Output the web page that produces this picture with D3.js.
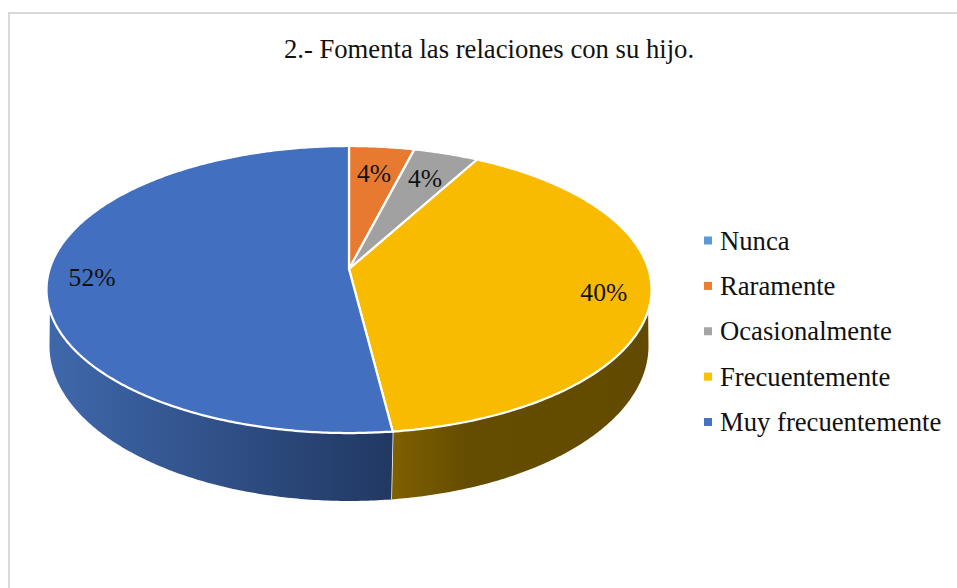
<!DOCTYPE html>
<html>
<head>
<meta charset="utf-8">
<script src="https://cdnjs.cloudflare.com/ajax/libs/d3/7.8.5/d3.min.js"></script>
<style>
  html, body { margin: 0; padding: 0; background: #fff; overflow: hidden; }
  text { font-family: "Liberation Serif", serif; fill: #111; }
</style>
</head>
<body>
<svg id="chart" width="957" height="588"></svg>
<script>
var title = '2.- Fomenta las relaciones con su hijo.';
var categories = ['Nunca', 'Raramente', 'Ocasionalmente', 'Frecuentemente', 'Muy frecuentemente'];
var values = [0, 4, 4, 40, 52];
var colors = ['#5b9bd5', '#ed7d31', '#a5a5a5', '#ffc000', '#4472c4'];

var svg = d3.select('#chart');
var color = d3.scaleOrdinal().domain(categories).range(colors);

// frame, only top and left are visible in the crop
svg.append('path')
  .attr('d', 'M9,588V13H957')
  .attr('fill', 'none')
  .attr('stroke', '#d9d9d9')
  .attr('stroke-width', 2);

svg.append('text')
  .attr('x', 489)
  .attr('y', 58)
  .attr('text-anchor', 'middle')
  .style('font-size', '26.67px')
  .text(title);

// the pie lies on a tilted plane, so the apex is not the ellipse center
var topPlane = { x: 349, y: 269, r: 299.4, a: -140.6, c: 0.1429 };
var bottomPlane = { x: 349, y: 327.7, r: 297.4, a: -152.8, c: 0.118 };

var project = function(plane, angle, k){
  var u = Math.sin(angle) * k;
  var v = Math.cos(angle) * k;
  var w = 1 + plane.c * v;
  return [plane.x + plane.r * u / w, plane.y + plane.a * v / w];
};

var arcPoints = function(plane, from, to){
  var n = Math.max(2, Math.ceil(Math.abs(to - from) / 0.01));
  return d3.range(n + 1).map(function(i){
    return project(plane, from + (to - from) * i / n, 1);
  });
};

var line = d3.line();
var pie = d3.pie().sort(null).value(function(d){ return d.value; });
var slices = pie(categories.map(function(c, i){
  return { name: c, value: values[i], index: i };
}));

// where the rim stops being visible on each plane (right and left silhouette)
var rimTop = [1.861, 2 * Math.PI - 1.861];
var rimBottom = [1.689, 2 * Math.PI - 1.689];

var defs = svg.append('defs');

var addGradient = function(id, x1, x2, stops){
  var g = defs.append('linearGradient')
    .attr('id', id)
    .attr('gradientUnits', 'userSpaceOnUse')
    .attr('x1', x1).attr('x2', x2)
    .attr('y1', 0).attr('y2', 0);
  stops.forEach(function(s){
    g.append('stop').attr('offset', s[0]).attr('stop-color', s[1]);
  });
};
addGradient('side-3', 392, 651, [[0, '#7f6000'], [0.3, '#644c00'], [1, '#624b00']]);
addGradient('side-4', 47, 392, [[0, '#3f68ac'], [1, '#213862']]);

var sides = svg.append('g').attr('class', 'sides');

slices.forEach(function(d){
  var a0 = Math.max(d.startAngle, rimTop[0]), a1 = Math.min(d.endAngle, rimTop[1]);
  if (a1 <= a0) return;
  var b0 = Math.max(d.startAngle, rimBottom[0]), b1 = Math.min(d.endAngle, rimBottom[1]);
  var pts = arcPoints(topPlane, a0, a1).concat(arcPoints(bottomPlane, b1, b0));
  sides.append('path')
    .attr('d', line(pts) + 'Z')
    .attr('fill', 'url(#side-' + d.data.index + ')');
  // white seam between the two rim pieces
  if (d.endAngle < rimTop[1]) {
    sides.append('path')
      .attr('d', line([project(topPlane, d.endAngle, 1), project(bottomPlane, d.endAngle, 1)]))
      .attr('stroke', '#fff')
      .attr('stroke-width', 1.5);
  }
});

var tops = svg.append('g').attr('class', 'tops');

slices.filter(function(d){ return d.value > 0; }).forEach(function(d){
  var pts = [[topPlane.x, topPlane.y]].concat(arcPoints(topPlane, d.startAngle, d.endAngle));
  tops.append('path')
    .attr('d', line(pts) + 'Z')
    .attr('fill', d3.color(color(d.data.name)).darker(0.07))
    .attr('stroke', '#fff')
    .attr('stroke-width', 2.25)
    .attr('stroke-linejoin', 'round');
});

// data labels
var labels = svg.append('g').attr('class', 'labels');

slices.filter(function(d){ return d.value > 0; }).forEach(function(d){
  var mid = (d.startAngle + d.endAngle) / 2;
  var p = project(topPlane, mid, d.value < 10 ? 0.77 : 0.85);
  labels.append('text')
    .attr('x', p[0] - 1)
    .attr('y', p[1] + 1)
    .attr('dy', '0.33em')
    .attr('text-anchor', 'middle')
    .style('font-size', '25.6px')
    .text(d.value + '%');
});

// legend
var legendY = d3.scalePoint().domain(categories).range([240.5, 422]);

var legend = svg.append('g').attr('class', 'legend')
  .selectAll('g')
  .data(categories)
  .enter()
  .append('g')
  .attr('transform', function(d){ return 'translate(0,' + legendY(d) + ')'; });

legend.append('rect')
  .attr('x', 704)
  .attr('y', -4)
  .attr('width', 8)
  .attr('height', 8)
  .attr('fill', function(d){ return color(d); });

legend.append('text')
  .attr('x', 720)
  .attr('y', 9)
  .style('font-size', '26.67px')
  .text(function(d){ return d; });
</script>
</body>
</html>
